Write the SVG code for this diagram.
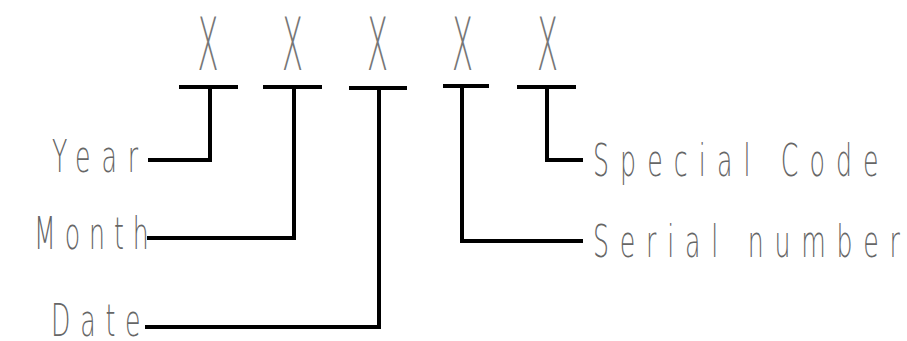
<svg xmlns="http://www.w3.org/2000/svg" width="907" height="341" viewBox="0 0 907 341">
<style>
.lbl{font-family:"DejaVu Sans","Liberation Sans",sans-serif;font-weight:200;font-size:45px;fill:#666;}
.x{font-family:"DejaVu Sans","Liberation Sans",sans-serif;font-weight:200;font-size:73px;fill:#777;}
.bar{stroke:#000;stroke-width:4;fill:none;}
.conn{stroke:#000;stroke-width:4;fill:none;stroke-linejoin:miter;}
</style>
<rect width="907" height="341" fill="#fff"/>
<g id="digit1"><text class="x" transform="translate(197.5,70) scale(0.42,1)">X</text><line class="bar" x1="179" y1="87" x2="238" y2="87"/></g>
<g id="digit2"><text class="x" transform="translate(282,70) scale(0.42,1)">X</text><line class="bar" x1="263" y1="87" x2="322" y2="87"/></g>
<g id="digit3"><text class="x" transform="translate(367,70) scale(0.42,1)">X</text><line class="bar" x1="349" y1="88" x2="407" y2="88"/></g>
<g id="digit4"><text class="x" transform="translate(452,70) scale(0.42,1)">X</text><line class="bar" x1="443" y1="86" x2="489" y2="86"/></g>
<g id="digit5"><text class="x" transform="translate(537,70) scale(0.42,1)">X</text><line class="bar" x1="517" y1="87" x2="576" y2="87"/></g>
<g id="year"><text class="lbl" transform="translate(52,172) scale(0.56,1)" textLength="154" lengthAdjust="spacing">Year</text></g>
<g id="month"><text class="lbl" transform="translate(34,249) scale(0.56,1)" textLength="205" lengthAdjust="spacing">Month</text></g>
<g id="date"><text class="lbl" transform="translate(51,336) scale(0.56,1)" textLength="160" lengthAdjust="spacing">Date</text></g>
<g id="special"><text class="lbl" transform="translate(593,176) scale(0.56,1)" textLength="510" lengthAdjust="spacing">Special Code</text></g>
<g id="serial"><text class="lbl" transform="translate(593,257) scale(0.56,1)" textLength="548" lengthAdjust="spacing">Serial number</text></g>
<g id="connectors">
<polyline class="conn" points="210,87 210,160 148,160"/>
<polyline class="conn" points="294,87 294,238 147,238"/>
<polyline class="conn" points="379,88 379,327 145,327"/>
<polyline class="conn" points="462,86 462,241 583,241"/>
<polyline class="conn" points="547,87 547,160 583,160"/>
</g>
</svg>
